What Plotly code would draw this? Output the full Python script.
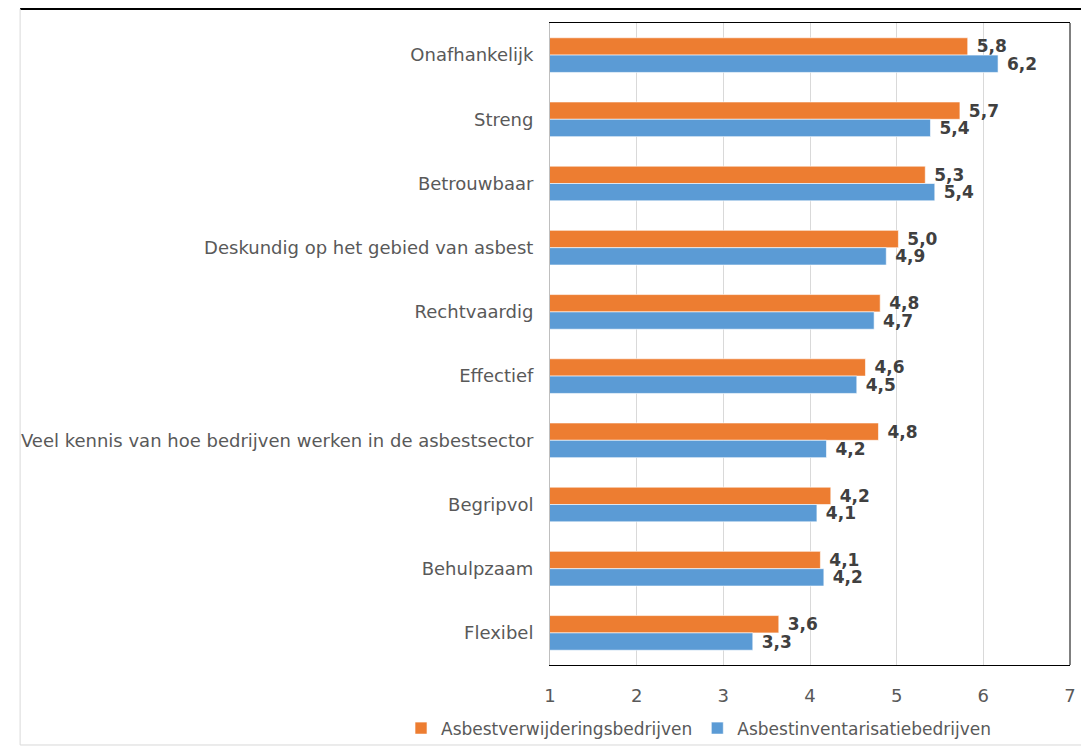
import plotly.graph_objects as go

categories = [
    "Onafhankelijk",
    "Streng",
    "Betrouwbaar",
    "Deskundig op het gebied van asbest",
    "Rechtvaardig",
    "Effectief",
    "Veel kennis van hoe bedrijven werken in de asbestsector",
    "Begripvol",
    "Behulpzaam",
    "Flexibel",
]
verwijdering = [5.82, 5.73, 5.33, 5.02, 4.81, 4.64, 4.79, 4.24, 4.12, 3.64]
inventarisatie = [6.17, 5.39, 5.44, 4.88, 4.74, 4.54, 4.19, 4.08, 4.16, 3.34]
series_names = ["Asbestverwijderingsbedrijven", "Asbestinventarisatiebedrijven"]
x_ticks = [1, 2, 3, 4, 5, 6, 7]

FONT = "DejaVu Sans"
fig = go.Figure()
for name, vals, col in [(series_names[0], verwijdering, "#ED7D31"),
                        (series_names[1], inventarisatie, "#5B9BD5")]:
    fig.add_trace(go.Bar(
        y=categories, x=vals, base=0, orientation="h", name=name,
        marker=dict(color=col, line=dict(color="rgba(255,255,255,0.6)", width=1)),
        texttemplate=" %{x:.1f}", textposition="outside", cliponaxis=False,
        constraintext="none",
        textfont=dict(family=FONT, size=17, color="#404040", weight="bold"),
    ))

fig.update_layout(
    width=1081, height=741,
    margin=dict(l=542, r=19, t=15, b=84, autoexpand=False),
    paper_bgcolor="white", plot_bgcolor="white",
    barmode="group", bargap=0.46, bargroupgap=0,
    separators=",.",
    font=dict(family=FONT, size=18, color="#595959"),
    xaxis=dict(range=[1, 7], tickvals=x_ticks, showgrid=True, gridcolor="#D9D9D9",
               gridwidth=1, zeroline=False, showline=True, linecolor="#000000",
               linewidth=1, mirror=True, ticks="", ticklabelstandoff=14,
               tickfont=dict(family=FONT, size=18, color="#595959")),
    yaxis=dict(autorange="reversed", showline=True, linecolor="#BFBFBF", linewidth=1,
               mirror=False, ticks="", ticklabelstandoff=12,
               tickfont=dict(family=FONT, size=18, color="#595959")),
    legend=dict(orientation="h", x=-0.2865, xanchor="left", y=-0.099, yanchor="middle",
                font=dict(family=FONT, size=17, color="#595959"),
                bgcolor="rgba(0,0,0,0)", itemwidth=30, traceorder="normal"),
    showlegend=True,
)

# right border of plot area
fig.add_shape(type="line", xref="paper", yref="paper", x0=1, x1=1, y0=0, y1=1,
              line=dict(color="#000000", width=1))
# outer frame lines
fig.add_shape(type="line", xref="paper", yref="paper", x0=-1.019, x1=1.0365,
              y0=1.0218, y1=1.0218, line=dict(color="#000000", width=2))
fig.add_shape(type="line", xref="paper", yref="paper", x0=-1.019, x1=-1.019,
              y0=1.0218, y1=-0.1246, line=dict(color="#D9D9D9", width=1))
fig.add_shape(type="line", xref="paper", yref="paper", x0=-1.019, x1=1.0365,
              y0=-0.1246, y1=-0.1246, line=dict(color="#D9D9D9", width=1))

fig.write_html("out.html")
